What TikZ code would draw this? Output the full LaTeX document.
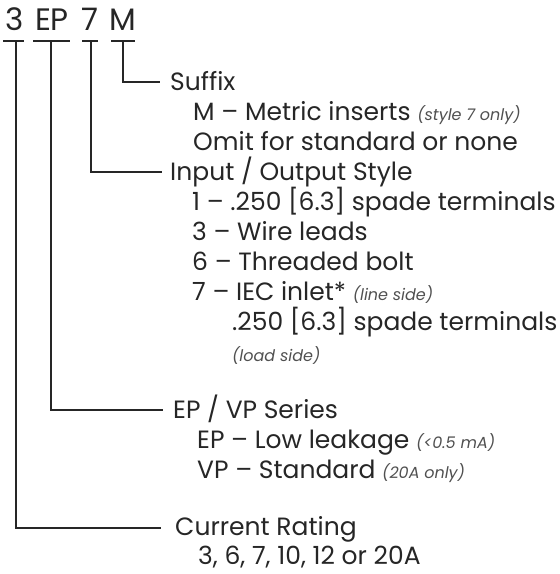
\documentclass[tikz,border=0pt]{standalone}
\usepackage{fontspec}
\setmainfont{Poppins}
\definecolor{ink}{HTML}{262626}
\definecolor{notegray}{HTML}{505050}
\tikzset{
  lbl/.style={anchor=base west, inner sep=0pt, text=ink, font=\fontsize{25}{28}\selectfont},
  toplbl/.style={anchor=base, inner sep=0pt, text=ink, font=\fontsize{31}{34}\selectfont},
  conn/.style={draw=ink, line width=1.5pt},
}
\newcommand{\note}[1]{{\color{notegray}\fontsize{16}{18}\selectfont\itshape #1}}
\begin{document}
\begin{tikzpicture}[x=1pt,y=-1pt]
\useasboundingbox (0,0) rectangle (560,574);
% top code
\node[toplbl] (c3) at (15,30) {3};
\node[toplbl] (cEP) at (52,30) {EP};
\node[toplbl] (c7) at (90,30) {7};
\node[toplbl] (cM) at (123,30) {M};
% T bars
\coordinate (b1l) at (3,41); \coordinate (b1r) at (24,41);
\coordinate (b2l) at (33,41); \coordinate (b2r) at (70,41);
\coordinate (b3l) at (82,41); \coordinate (b3r) at (98,41);
\coordinate (b4l) at (111,41); \coordinate (b4r) at (135,41);
\draw[conn] (b1l) -- (b1r);
\draw[conn] (b2l) -- (b2r);
\draw[conn] (b3l) -- (b3r);
\draw[conn] (b4l) -- (b4r);
% headings
\node[lbl] (hSuf) at (170,90) {Suffix};
\node[lbl] (hIO) at (170,180) {Input / Output Style};
\node[lbl] (hEP) at (173,418) {EP / VP Series};
\node[lbl] (hCR) at (175,535) {Current Rating};
% items
\node[lbl] (s1) at (193,120) {M -- Metric inserts \note{(style 7 only)}};
\node[lbl] (s2) at (193,150) {Omit for standard or none};
\node[lbl] (i1) at (192,210) {1 -- .250 [6.3] spade terminals};
\node[lbl] (i2) at (192,240) {3 -- Wire leads};
\node[lbl] (i3) at (192,270) {6 -- Threaded bolt};
\node[lbl] (i4) at (192,300) {7 -- IEC inlet* \note{(line side)}};
\node[lbl] (i5) at (232,330) {.250 [6.3] spade terminals};
\node[lbl] (i6) at (232,361) {\note{(load side)}};
\node[lbl] (e1) at (197,448) {EP -- Low leakage \note{(<0.5 mA)}};
\node[lbl] (e2) at (197,478) {VP -- Standard \note{(20A only)}};
\node[lbl] (r1) at (198,564) {3, 6, 7, 10, 12 or 20A};
% connector ends
\coordinate (v4) at (123,41);
\coordinate (v3) at (91,41);
\coordinate (v2) at (51,41);
\coordinate (v1) at (16,41);
\coordinate (e4) at (160,82);
\coordinate (e3) at (162,172);
\coordinate (e2) at (163,410);
\coordinate (e1) at (161,528);
\draw[conn] (v4) |- (e4);
\draw[conn] (v3) |- (e3);
\draw[conn] (v2) |- (e2);
\draw[conn] (v1) |- (e1);
\end{tikzpicture}
\end{document}
